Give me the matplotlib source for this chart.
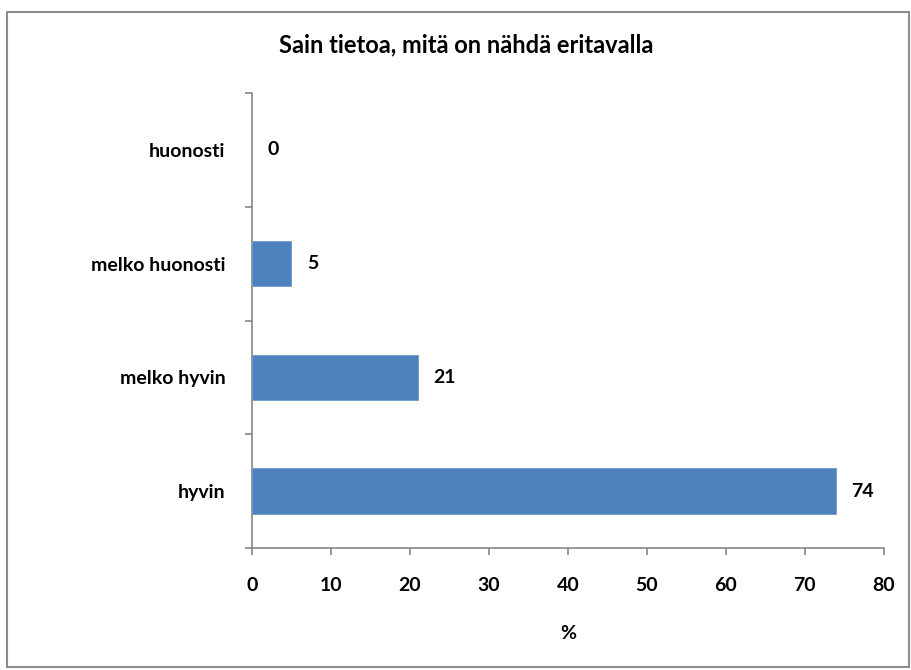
import matplotlib
matplotlib.use("Agg")
import matplotlib.pyplot as plt
from matplotlib.patches import Rectangle
from matplotlib.ticker import FixedLocator

categories = ["hyvin", "melko hyvin", "melko huonosti", "huonosti"]
values = [74, 21, 5, 0]
x_ticks = [0, 10, 20, 30, 40, 50, 60, 70, 80]

title = "Sain tietoa, mitä on nähdä eritavalla"
x_label = "%"

plt.rcParams["font.family"] = ["Lato", "DejaVu Sans"]

W, H = 911, 670
fig = plt.figure(figsize=(W / 100, H / 100), dpi=100)
fig.patch.set_facecolor("white")

# outer chart-area frame
fig.add_artist(Rectangle((7 / W, 3 / H), 902 / W, 655 / H, transform=fig.transFigure,
                         fill=False, edgecolor="#8c8c8c", linewidth=1.5))

left, right = 252 / W, 883.7 / W
bottom, top = 1 - 548 / H, 1 - 93 / H
ax = fig.add_axes([left, bottom, right - left, top - bottom])

pos = list(range(len(categories)))
edge_widths = [0.6 if v > 0 else 0 for v in values]
ax.barh(pos, values, height=0.4, color="#4F81BD", edgecolor="#6f98cb",
        linewidth=edge_widths, zorder=3)

ax.set_xlim(0, 80)
ax.set_ylim(-0.5, len(categories) - 0.5)

for s in ["top", "right"]:
    ax.spines[s].set_visible(False)
for s in ["left", "bottom"]:
    ax.spines[s].set_color("#868686")
    ax.spines[s].set_linewidth(1.2)

fs = 14
ax.set_xticks(x_ticks)
ax.set_xticklabels([str(t) for t in x_ticks], fontsize=fs, fontweight="bold")
ax.tick_params(axis="x", direction="out", length=5, width=1.2, color="#868686", pad=16)

ax.set_yticks(pos)
ax.set_yticklabels(categories, fontsize=fs, fontweight="bold")
ax.tick_params(axis="y", length=0, pad=19)
ax.yaxis.set_minor_locator(FixedLocator([p - 0.5 for p in pos] + [pos[-1] + 0.5]))
ax.tick_params(axis="y", which="minor", direction="out", length=5, width=1.2, color="#868686")

for p, v in zip(pos, values):
    ax.annotate(str(v), xy=(v, p), xytext=(11, 0), textcoords="offset points",
                va="center", ha="left", fontsize=fs, fontweight="bold")

ax.set_xlabel(x_label, fontsize=fs, fontweight="bold", labelpad=22)
fig.text(466 / W, 1 - 45 / H, title, ha="center", va="center",
         fontsize=17, fontweight="bold")

fig.savefig("out.png", dpi=100, facecolor="white")
